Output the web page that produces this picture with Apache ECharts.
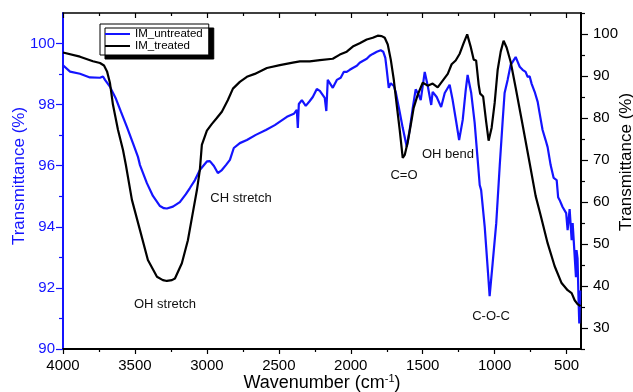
<!DOCTYPE html>
<html><head><meta charset="utf-8">
<script src="https://cdn.jsdelivr.net/npm/echarts@6/dist/echarts.min.js"></script>
<style>html,body{margin:0;padding:0;background:#fff}#c{width:633px;height:392px}</style>
</head><body><div id="c"></div>
<script>
// Wavenumber ticks
const xMajor = [500,1000,1500,2000,2500,3000,3500,4000];
const xMinor = [750,1250,1750,2250,2750,3250,3750];
const leftMajor = [90,92,94,96,98,100];
const leftMinor = [91,93,95,97,99];
const rightMajor = [30,40,50,60,70,80,90,100];
const rightMinor = [25,35,45,55,65,75,85,95,105];

const seriesNames = ['IM_untreated','IM_treated'];

// IM_untreated (left axis)
const blueWn = [4000,3951,3882,3813,3743,3722,3708,3674,3632,3597,3556,3514,3479,3465,3417,3375,3326,3299,3278,3236,3188,3146,3118,3083,3049,3000,2979,2951,2924,2896,2868,2840,2813,2771,2722,2660,2590,2528,2444,2396,2375,2368,2361,2340,2313,2285,2264,2236,2215,2181,2170,2160,2125,2097,2070,2049,2028,2007,1986,1958,1938,1917,1889,1868,1847,1819,1792,1774,1760,1750,1736,1722,1701,1688,1660,1639,1611,1590,1569,1549,1528,1514,1486,1465,1441,1431,1403,1372,1347,1313,1292,1267,1247,1222,1201,1188,1163,1139,1118,1104,1094,1069,1046,1035,1014,989,965,944,931,910,889,875,854,840,826,806,785,771,757,743,722,701,688,667,646,632,611,590,569,559,549,528,503,493,479,465,458,444,435,431,424,417,412,405];
const blueT = [99.29,99.08,99.01,98.89,98.88,98.92,98.81,98.59,98.19,97.76,97.27,96.74,96.29,96.02,95.43,95.01,94.68,94.61,94.60,94.66,94.81,95.07,95.27,95.53,95.86,96.14,96.15,95.99,95.76,95.86,96.02,96.19,96.58,96.74,96.84,97.01,97.17,97.33,97.60,97.70,97.83,97.24,98.02,98.15,97.96,98.12,98.25,98.51,98.45,98.22,97.79,98.81,98.55,98.81,98.88,99.07,99.07,99.14,99.20,99.27,99.37,99.43,99.50,99.60,99.66,99.73,99.78,99.73,99.53,99.14,98.55,98.70,98.61,98.42,97.76,97.24,96.62,97.20,97.90,98.50,98.32,98.15,99.07,98.61,97.99,98.42,98.25,97.92,98.38,98.65,98.15,97.43,96.84,97.50,98.48,98.97,98.38,97.40,96.19,95.37,95.20,93.99,92.48,91.73,92.81,94.12,95.99,97.50,98.38,98.81,99.30,99.40,99.56,99.40,99.24,99.14,99.07,98.91,98.93,98.68,98.42,98.09,97.73,97.17,96.84,96.61,96.02,95.60,95.53,94.97,94.88,94.65,94.45,93.89,94.58,93.56,94.12,93.04,92.35,93.24,92.97,91.60,90.84,91.92];

// IM_treated (right axis)
const blackWn = [4000,3882,3792,3743,3715,3694,3674,3653,3618,3583,3563,3521,3465,3410,3347,3306,3278,3243,3222,3174,3132,3097,3069,3049,3035,3000,2965,2931,2896,2854,2819,2771,2722,2667,2583,2493,2403,2354,2285,2215,2125,2076,2028,1986,1938,1889,1847,1813,1785,1764,1743,1722,1701,1681,1660,1639,1625,1604,1583,1563,1535,1500,1465,1431,1396,1361,1326,1299,1271,1243,1215,1191,1167,1146,1129,1111,1101,1080,1059,1042,1021,1000,979,958,938,917,889,854,806,757,715,681,632,583,535,493,465,444,424,403];
const blackT = [95.6,94.6,93.5,93.1,92.5,91.1,88.4,83.2,77.2,72.4,68.8,60.5,53.3,46.2,42.2,41.4,41.2,41.4,41.8,45.4,50.9,57.6,62.9,67.6,73.6,77.0,78.6,80.0,81.5,84.3,87.0,88.6,89.8,90.5,91.9,92.6,93.2,93.5,93.5,93.8,94.1,95.1,95.8,97.0,97.8,98.7,99.1,99.6,99.5,99.1,97.5,93.9,89.1,83.2,77.2,70.5,71.2,74.3,78.4,82.4,85.5,88.4,87.7,88.2,87.3,88.9,90.5,92.8,93.7,95.3,97.9,99.9,97.0,93.9,93.7,87.9,85.8,85.1,79.1,74.6,77.7,83.6,91.5,95.8,98.4,96.8,93.4,87.2,78.4,69.3,61.4,56.9,50.2,44.7,40.7,39.0,38.3,36.6,35.7,35.2];

const annotations = [
  {text:'OH stretch', x:165, y:304},
  {text:'CH stretch', x:241, y:198},
  {text:'C=O', x:404, y:175},
  {text:'OH bend', x:448, y:154},
  {text:'C-O-C', x:491, y:316}
];

const BLUE = '#1414ff';
const FONT = '"Liberation Sans", Arial, sans-serif';
const plain = v => String(v);

function xAx(pos, ticks, len, inside, showLine, showLabel){
  return {
    type:'value', min:400, max:4000, inverse:true, position:pos, gridIndex:0,
    axisLine:{show:showLine, onZero:false, lineStyle:{color:'#000', width: pos==='bottom'?2:1.5}},
    axisTick:{show:true, inside:inside, length:len, customValues:ticks, lineStyle:{color:'#000', width:1.2}},
    axisLabel:{show:showLabel, customValues:ticks, formatter:plain, margin:9, color:'#000', fontSize:15, fontFamily:FONT},
    splitLine:{show:false}, minorTick:{show:false}
  };
}
function yAx(pos, min, max, ticks, len, color, showLine, showLabel, margin){
  return {
    type:'value', min:min, max:max, position:pos, gridIndex:0,
    axisLine:{show:showLine, onZero:false, lineStyle:{color:color, width:2}},
    axisTick:{show:true, inside:false, length:len, customValues:ticks, lineStyle:{color:color, width:1.2}},
    axisLabel:{show:showLabel, customValues:ticks, formatter:plain, margin:margin, color:color, fontSize:15, fontFamily:FONT},
    splitLine:{show:false}
  };
}

const chart = echarts.init(document.getElementById('c'), null, {renderer:'canvas'});
chart.setOption({
  animation:false,
  backgroundColor:'#fff',
  grid:{left:63, right:52, top:13, bottom:43, containLabel:false, outerBoundsMode:'none'},
  legend:{
    data:seriesNames, orient:'vertical', left:100, top:24,
    icon:'rect', itemWidth:25, itemHeight:2, itemGap:0,
    padding:[4,6,3,5],
    backgroundColor:'#fff', borderColor:'#000', borderWidth:1,
    shadowColor:'#000', shadowOffsetX:5, shadowOffsetY:4, shadowBlur:0,
    textStyle:{fontSize:11.5, fontFamily:FONT, color:'#000', lineHeight:12}
  },
  xAxis:[
    xAx('bottom', xMajor, 5, false, true, true),
    xAx('bottom', xMinor, 3, false, false, false),
    xAx('top', xMajor, 5, true, true, false),
    xAx('top', xMinor, 3, true, false, false)
  ],
  yAxis:[
    yAx('left', 90, 101, leftMajor, 7, BLUE, true, true, 8),
    yAx('left', 90, 101, leftMinor, 4, BLUE, false, false, 8),
    yAx('right', 25, 105, rightMajor, 7, '#000', true, true, 12),
    yAx('right', 25, 105, rightMinor, 4, '#000', false, false, 12)
  ],
  series:[
    {name:seriesNames[0], type:'line', xAxisIndex:0, yAxisIndex:0, symbol:'none',
     lineStyle:{color:BLUE, width:2.2}, itemStyle:{color:BLUE},
     data: blueWn.map((w,i)=>[w, blueT[i]])},
    {name:seriesNames[1], type:'line', xAxisIndex:0, yAxisIndex:2, symbol:'none',
     lineStyle:{color:'#000', width:2.2}, itemStyle:{color:'#000'},
     data: blackWn.map((w,i)=>[w, blackT[i]])}
  ],
  graphic:[
    {type:'text', x:19, y:176, rotation:Math.PI/2,
     style:{text:'Transmittance (%)', fill:BLUE, font:'17px '+FONT, align:'center', verticalAlign:'middle'}},
    {type:'text', x:626, y:162, rotation:Math.PI/2,
     style:{text:'Transmittance (%)', fill:'#000', font:'17px '+FONT, align:'center', verticalAlign:'middle'}},
    {type:'text', x:322, y:383,
     style:{text:'Wavenumber (cm{sup|-1})', fill:'#000', font:'18px '+FONT, align:'center', verticalAlign:'middle',
       rich:{sup:{fontSize:11, fontFamily:FONT, verticalAlign:'top', padding:[0,0,9,0], fill:'#000'}}}}
  ].concat(annotations.map(a=>({type:'text', x:a.x, y:a.y,
     style:{text:a.text, fill:'#111', font:'13px '+FONT, align:'center', verticalAlign:'middle'}})))
});
</script></body></html>
